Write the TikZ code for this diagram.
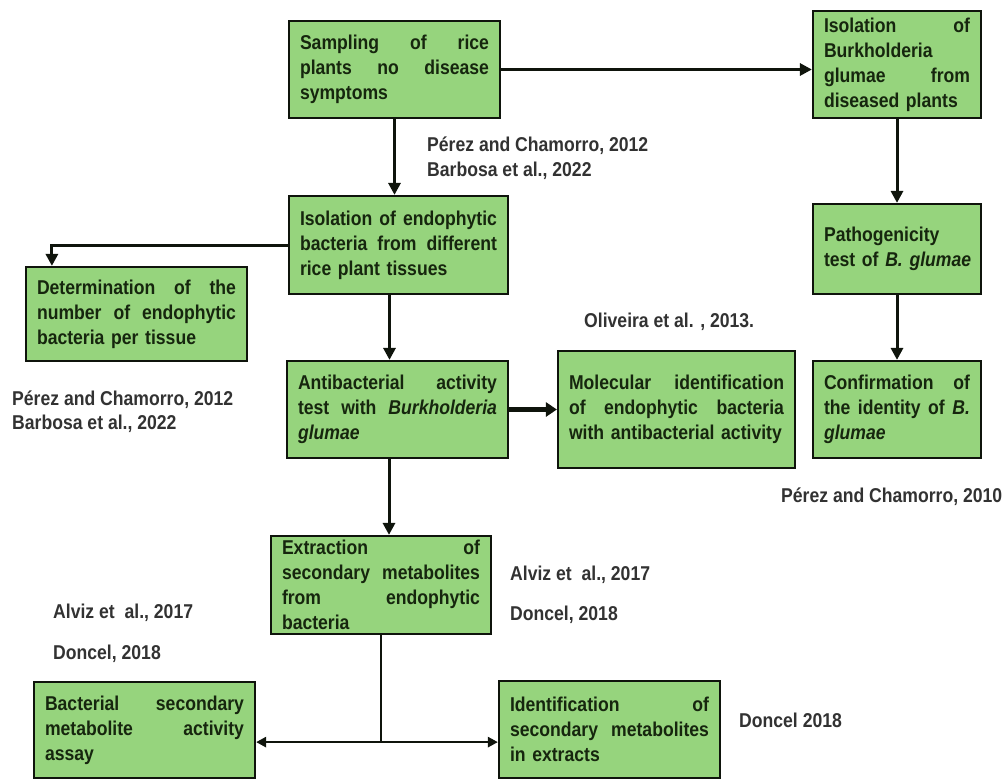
\documentclass[tikz,border=0pt]{standalone}
\usepackage{fontspec}
\setmainfont{Liberation Sans}[FakeStretch=0.88]
\usetikzlibrary{arrows.meta,calc}
\definecolor{boxfill}{RGB}{150,212,125}
\definecolor{boxtext}{RGB}{22,38,14}
\definecolor{citetext}{RGB}{50,50,50}
\definecolor{linecol}{RGB}{15,20,12}
\newcommand\jl[2]{\leavevmode\hbox to #1{#2}}
\tikzset{
  box/.style={draw=linecol, line width=2.2pt, fill=boxfill, text=boxtext,
    font=\bfseries\fontsize{20}{25}\selectfont, align=left,
    inner xsep=11pt, inner ysep=0pt, anchor=center},
  cite/.style={text=citetext, font=\bfseries\fontsize{20}{25}\selectfont,
    anchor=west, inner sep=0pt},
  arr/.style={draw=linecol, line width=3pt, -{Triangle[length=12pt,width=12pt]}},
  fatarr/.style={draw=linecol, line width=4.5pt, -{Triangle[length=11pt,width=14pt]}},
  barr/.style={draw=linecol, line width=2.6pt, -{Triangle[length=10pt,width=10pt]}},
  plainline/.style={draw=linecol, line width=2.6pt},
}
\begin{document}
\begin{tikzpicture}[x=1pt,y=-1pt]
\useasboundingbox (0,0) rectangle (1006,780);

\node[box, minimum width=211pt, text width=189pt, minimum height=97pt] (samp) at (394.5,69.5)
  {\jl{189pt}{Sampling\hfill of\hfill rice}\\\jl{189pt}{plants\hfill no\hfill disease}\\symptoms};
\node[box, minimum width=168pt, text width=146pt, minimum height=107pt] (burk) at (897,64.5)
  {\jl{146pt}{Isolation\hfill of}\\Burkholderia\\\jl{146pt}{glumae\hfill from}\\diseased plants};
\node[box, minimum width=219pt, text width=197pt, minimum height=98pt] (isol) at (398.5,245)
  {\jl{197pt}{Isolation\hfill of\hfill endophytic}\\\jl{197pt}{bacteria\hfill from\hfill different}\\rice plant tissues};
\node[box, minimum width=221pt, text width=199pt, minimum height=94pt] (det) at (136.5,314)
  {\jl{199pt}{Determination\hfill of\hfill the}\\\jl{199pt}{number\hfill of\hfill endophytic}\\bacteria per tissue};
\node[box, minimum width=168pt, text width=146pt, minimum height=90pt] (path) at (897,249)
  {Pathogenicity\\\mbox{test of \textit{B. glumae}}};
\node[box, minimum width=221pt, text width=199pt, minimum height=97pt] (anti) at (397.5,409.5)
  {\jl{199pt}{Antibacterial\hfill activity}\\\jl{199pt}{test\hfill with\hfill \textit{Burkholderia}}\\\textit{glumae}};
\node[box, minimum width=237pt, text width=215pt, minimum height=117pt] (mol) at (676.5,409.5)
  {\jl{215pt}{Molecular\hfill identification}\\\jl{215pt}{of\hfill endophytic\hfill bacteria}\\with antibacterial activity};
\node[box, minimum width=168pt, text width=146pt, minimum height=97pt] (conf) at (897,409.5)
  {\jl{146pt}{Confirmation\hfill of}\\\jl{146pt}{the\hfill identity\hfill of\hfill \textit{B.}}\\\textit{glumae}};
\node[box, minimum width=220pt, text width=198pt, minimum height=98pt] (extr) at (381,585)
  {\jl{198pt}{Extraction\hfill of}\\\jl{198pt}{secondary\hfill metabolites}\\\jl{198pt}{from\hfill endophytic}\\bacteria};
\node[box, minimum width=221pt, text width=199pt, minimum height=96pt] (bact) at (144.5,730)
  {\jl{199pt}{Bacterial\hfill secondary}\\\jl{199pt}{metabolite\hfill activity}\\assay};
\node[box, minimum width=221pt, text width=199pt, minimum height=97pt] (ident) at (609.5,729.5)
  {\jl{199pt}{Identification\hfill of}\\\jl{199pt}{secondary\hfill metabolites}\\in extracts};

\node[cite] (c1) at (427,146) {Pérez and Chamorro, 2012};
\node[cite] (c2) at (427,171) {Barbosa et al., 2022};
\node[cite] (c3) at (584,322) {Oliveira et al. , 2013.};
\node[cite] (c4) at (12,400) {Pérez and Chamorro, 2012};
\node[cite] (c5) at (12,424) {Barbosa et al., 2022};
\node[cite] (c6) at (781,497) {Pérez and Chamorro, 2010};
\node[cite] (c7) at (510,575) {Alviz et\ \ al., 2017};
\node[cite] (c8) at (510,615) {Doncel, 2018};
\node[cite] (c9) at (53,613) {Alviz et\ \ al., 2017};
\node[cite] (c10) at (53,654) {Doncel, 2018};
\node[cite] (c11) at (739,720) {Doncel 2018};

\draw[arr] (samp.south) -- (samp.south |- isol.north);
\draw[arr] (samp.east) -- (samp.east -| burk.west);
\draw[arr] (burk.south) -- (path.north);
\draw[arr] (path.south) -- (conf.north);
\draw[arr] (isol.west) -| ([xshift=27pt]det.north west);
\draw[arr] ([xshift=-9pt]isol.south) -- ([xshift=-9pt]isol.south |- anti.north);
\draw[arr] ([xshift=-8.5pt]anti.south) -- ([xshift=-8.5pt]anti.south |- extr.north);
\draw[fatarr] (anti.east) -- (anti.east -| mol.west);
\coordinate (split) at ([yshift=-107pt]extr.south);
\draw[plainline] (extr.south) -- (split);
\draw[barr] (split) -- (split -| bact.east);
\draw[barr] (split) -- (split -| ident.west);
\end{tikzpicture}
\end{document}
